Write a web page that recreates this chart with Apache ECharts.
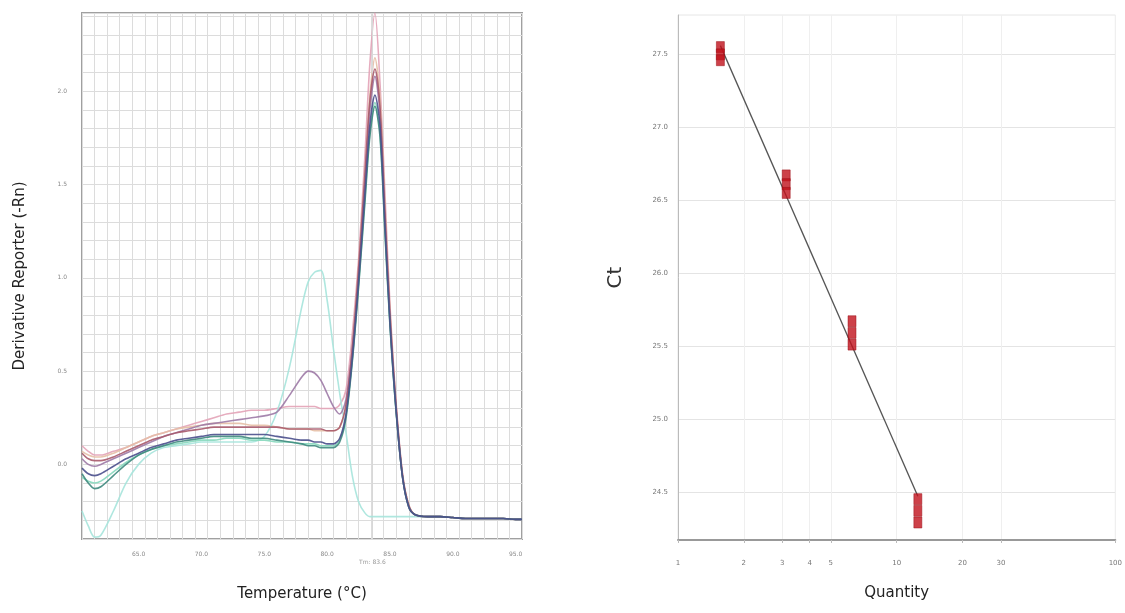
<!DOCTYPE html>
<html>
<head>
<meta charset="utf-8">
<script src="https://cdn.jsdelivr.net/npm/echarts@6/dist/echarts.min.js"></script>
<style>
html,body{margin:0;padding:0;background:#fff;}
#chart{width:1125px;height:613px;}
</style>
</head>
<body>
<div id="chart"></div>
<script>
// ---------- Melt curve data (left) ----------
const temps = [60.5,61,61.5,62,63,64,65,66,67,68,69,70,71,72,73,74,75,76,77,78,78.5,79,79.5,80,80.5,81,81.5,82,82.5,83,83.4,83.8,84.2,84.6,85,85.5,86,86.5,87,88,89,90,91,92,93,94,95,95.5];
const curvePink   = [0.10,0.07,0.05,0.05,0.07,0.09,0.12,0.15,0.17,0.19,0.21,0.23,0.25,0.27,0.28,0.29,0.29,0.30,0.31,0.31,0.31,0.31,0.30,0.30,0.30,0.32,0.40,0.70,1.10,1.65,2.15,2.42,2.05,1.45,0.85,0.32,-0.05,-0.22,-0.27,-0.28,-0.28,-0.285,-0.29,-0.29,-0.29,-0.29,-0.295,-0.295];
const curveMauve  = [0.03,0.00,-0.01,0.00,0.03,0.06,0.09,0.12,0.15,0.17,0.19,0.21,0.22,0.23,0.24,0.25,0.26,0.28,0.37,0.47,0.50,0.49,0.45,0.38,0.31,0.27,0.35,0.62,1.00,1.50,1.90,2.08,1.88,1.32,0.78,0.28,-0.07,-0.23,-0.27,-0.28,-0.28,-0.285,-0.29,-0.29,-0.29,-0.29,-0.295,-0.295];
const curveMaroon = [0.06,0.03,0.02,0.02,0.04,0.07,0.10,0.13,0.15,0.17,0.18,0.19,0.20,0.20,0.20,0.20,0.20,0.20,0.19,0.19,0.19,0.19,0.19,0.18,0.18,0.20,0.32,0.62,1.05,1.55,1.95,2.12,1.92,1.35,0.80,0.30,-0.06,-0.22,-0.27,-0.28,-0.28,-0.285,-0.29,-0.29,-0.29,-0.29,-0.295,-0.295];
const curveSalmon = [0.07,0.05,0.04,0.04,0.06,0.09,0.12,0.15,0.17,0.19,0.20,0.21,0.22,0.22,0.22,0.21,0.21,0.20,0.19,0.19,0.19,0.18,0.18,0.18,0.18,0.20,0.32,0.63,1.05,1.55,1.98,2.18,1.97,1.38,0.82,0.30,-0.06,-0.22,-0.27,-0.28,-0.28,-0.285,-0.29,-0.29,-0.29,-0.29,-0.295,-0.295];
const curveNavy   = [-0.02,-0.05,-0.06,-0.05,-0.01,0.03,0.06,0.09,0.11,0.13,0.14,0.15,0.16,0.16,0.16,0.16,0.16,0.15,0.14,0.13,0.13,0.12,0.12,0.11,0.11,0.14,0.27,0.57,0.98,1.45,1.82,1.98,1.82,1.28,0.76,0.28,-0.07,-0.23,-0.27,-0.28,-0.28,-0.285,-0.29,-0.29,-0.29,-0.29,-0.295,-0.295];
const curveTeal   = [-0.05,-0.10,-0.13,-0.12,-0.06,0.00,0.05,0.08,0.10,0.12,0.13,0.14,0.15,0.15,0.15,0.14,0.14,0.13,0.12,0.11,0.10,0.10,0.09,0.09,0.09,0.12,0.25,0.55,0.95,1.40,1.76,1.92,1.76,1.24,0.74,0.27,-0.07,-0.23,-0.27,-0.28,-0.28,-0.285,-0.29,-0.29,-0.29,-0.29,-0.295,-0.295];
const curveMint   = [-0.07,-0.09,-0.10,-0.09,-0.04,0.01,0.05,0.08,0.10,0.11,0.12,0.13,0.13,0.14,0.14,0.13,0.13,0.12,0.12,0.11,0.11,0.11,0.10,0.10,0.10,0.13,0.26,0.56,0.96,1.42,1.78,1.94,1.78,1.25,0.75,0.27,-0.07,-0.23,-0.27,-0.28,-0.28,-0.285,-0.29,-0.29,-0.29,-0.29,-0.295,-0.295];
const curveCyan   = [-0.25,-0.33,-0.39,-0.38,-0.25,-0.10,0.00,0.06,0.09,0.10,0.11,0.12,0.12,0.12,0.12,0.12,0.15,0.28,0.52,0.85,0.98,1.03,1.04,0.88,0.62,0.38,0.17,-0.06,-0.20,-0.26,-0.28,-0.28,-0.28,-0.28,-0.28,-0.28,-0.28,-0.28,-0.28,-0.28,-0.28,-0.285,-0.29,-0.29,-0.29,-0.29,-0.295,-0.295];
const meltCurves = [
  {name:'Pink',   data:curvePink,   color:'#e3a3b7'},
  {name:'Salmon', data:curveSalmon, color:'#e6bfa6'},
  {name:'Cyan',   data:curveCyan,   color:'#a6e4dc'},
  {name:'Mint',   data:curveMint,   color:'#86d8bc'},
  {name:'Mauve',  data:curveMauve,  color:'#9d7aa6'},
  {name:'Maroon', data:curveMaroon, color:'#a85a6c'},
  {name:'Teal',   data:curveTeal,   color:'#3f8a7e'},
  {name:'Navy',   data:curveNavy,   color:'#4a4f8c'}
];
const tmValue = 83.6;

// ---------- Standard curve data (right) ----------
const quantities = [1.5625, 3.125, 6.25, 12.5];
const ctRepA = [27.55, 26.67, 25.67, 24.45];
const ctRepB = [27.50, 26.61, 25.59, 24.37];
const ctRepC = [27.46, 26.55, 25.51, 24.29];
const fitQty = [1.5625, 12.5];
const fitCt  = [27.56, 24.47];
const qtyTickLabels = [1, 2, 3, 4, 5, 10, 20, 30, 100];

// ---------- helpers ----------
const pair = (xs, ys) => xs.map((x, i) => [x, ys[i]]);
const isMult = (v, m) => Math.abs(v / m - Math.round(v / m)) < 1e-6;
const T = 'rgba(0,0,0,0)';
const ctLineColors = [];
for (let i = 0; i < 50; i++) ctLineColors.push(i === 33 ? '#e4e4e4' : T);

const FONT = 'DejaVu Sans';

const leftSeries = meltCurves.map((c, i) => ({
  type: 'line', name: c.name, xAxisIndex: 0, yAxisIndex: 0,
  data: pair(temps, c.data), smooth: 0.3,
  showSymbol: false, symbol: 'none',
  lineStyle: {color: c.color, width: 1.6, opacity: 0.9},
  z: 3 + i,
  markLine: i === 0 ? {
    silent: true, symbol: 'none',
    lineStyle: {color: '#d8d8d8', type: 'solid', width: 1},
    label: {show: true, position: 'start', formatter: 'Tm: ' + tmValue.toFixed(1),
            fontSize: 6, color: '#999', distance: 20, fontFamily: FONT},
    data: [{xAxis: tmValue}]
  } : undefined
}));

const repStyle = {color: '#c0121c', borderColor: '#9a0c14', borderWidth: 0.6};
const rightSeries = [
  {type: 'line', xAxisIndex: 1, yAxisIndex: 1, data: pair(fitQty, fitCt),
   showSymbol: false, symbol: 'none', lineStyle: {color: '#555', width: 1.3}, z: 2},
  ...[ctRepA, ctRepB, ctRepC].map(arr => ({
    type: 'scatter', xAxisIndex: 1, yAxisIndex: 1, data: pair(quantities, arr),
    symbol: 'rect', symbolSize: [8, 11], itemStyle: repStyle, z: 5
  }))
];

const option = {
  backgroundColor: '#fff',
  animation: false,
  textStyle: {fontFamily: FONT},
  grid: [
    {left: 82, right: 603, top: 13, bottom: 74, show: true, borderColor: '#a0a0a0', borderWidth: 2, backgroundColor: '#fff'},
    {left: 678, right: 7, top: 15, bottom: 73, show: true, borderColor: '#e6e6e6', borderWidth: 1}
  ],
  xAxis: [
    {type: 'value', gridIndex: 0, min: 60.5, max: 95.5, interval: 0.5,
     name: 'Temperature (°C)', nameLocation: 'middle', nameGap: 48,
     nameTextStyle: {fontSize: 15, color: '#222', fontFamily: FONT},
     axisLine: {show: false}, axisTick: {show: false},
     axisLabel: {fontSize: 6, color: '#888', margin: 12,
       formatter: v => isMult(v, 5) ? v.toFixed(1) : ''},
     splitLine: {show: true, lineStyle: {color: ['#dcdcdc', T], width: 1}}},
    {type: 'log', gridIndex: 1, logBase: 10, min: 1, max: 100,
     name: 'Quantity', nameLocation: 'middle', nameGap: 46,
     nameTextStyle: {fontSize: 15, color: '#222', fontFamily: FONT},
     axisLine: {show: true, lineStyle: {color: '#999', width: 2}},
     axisTick: {show: true, length: 3, lineStyle: {color: '#bbb'}, customValues: qtyTickLabels},
     axisLabel: {fontSize: 7, color: '#777', margin: 20, customValues: qtyTickLabels,
       formatter: v => String(Math.round(v))},
     splitLine: {show: true, lineStyle: {color: '#efefef'}}}
  ],
  yAxis: [
    {type: 'value', gridIndex: 0, min: -0.4, max: 2.42, interval: 0.1,
     name: 'Derivative Reporter (-Rn)', nameLocation: 'middle', nameGap: 54,
     nameTextStyle: {fontSize: 15, color: '#222', fontFamily: FONT},
     axisLine: {show: false}, axisTick: {show: false},
     axisLabel: {fontSize: 6, color: '#888', margin: 15,
       formatter: v => isMult(v, 0.5) ? v.toFixed(1) : ''},
     splitLine: {show: true, lineStyle: {color: '#dcdcdc', width: 1}}},
    {type: 'value', gridIndex: 1, min: 24.17, max: 27.77, interval: 0.01,
     name: 'Ct', nameLocation: 'middle', nameGap: 52,
     nameTextStyle: {fontSize: 20, color: '#333', fontFamily: FONT},
     axisLine: {show: true, lineStyle: {color: '#bbb', width: 1}},
     axisTick: {show: false},
     axisLabel: {fontSize: 7, color: '#777', margin: 10,
       formatter: v => isMult(v, 0.5) ? v.toFixed(1) : ''},
     splitLine: {show: true, lineStyle: {color: ctLineColors, width: 1}}}
  ],
  series: [...leftSeries, ...rightSeries]
};

const chart = echarts.init(document.getElementById('chart'), null, {renderer: 'canvas'});
chart.setOption(option);
</script>
</body>
</html>
